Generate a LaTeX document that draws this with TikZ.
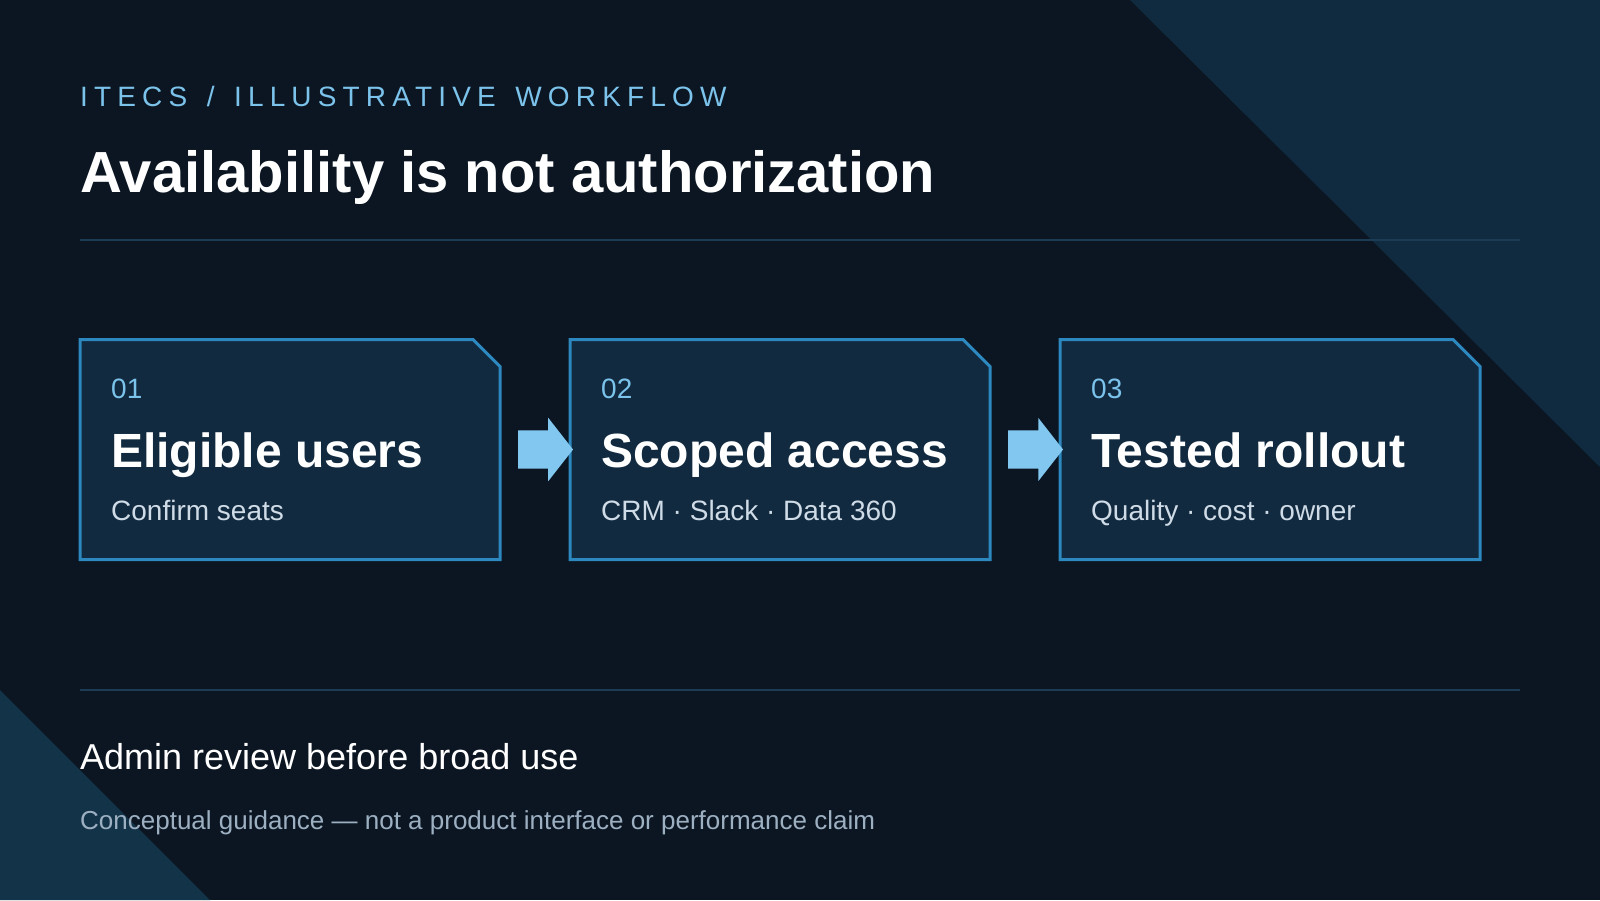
\documentclass[tikz,border=0pt]{standalone}
\usepackage{fontspec}
\setmainfont{Liberation Sans}
\newfontfamily\trackfont[LetterSpace=22,WordSpace=1.4]{Liberation Sans}
\usepackage{xcolor}
\usetikzlibrary{positioning,shapes.arrows}

\definecolor{bgnavy}{HTML}{0B1622}
\definecolor{tripanel}{HTML}{102B40}
\definecolor{tripanelb}{HTML}{133349}
\definecolor{ruleline}{HTML}{1B3C54}
\definecolor{boxfill}{HTML}{112A40}
\definecolor{boxline}{HTML}{2C88BF}
\definecolor{arrowblue}{HTML}{82C7F0}
\definecolor{numblue}{HTML}{7CC3EC}
\definecolor{subgrey}{HTML}{CFDBE6}
\definecolor{notegrey}{HTML}{9DB0C2}

\newcommand{\cutbox}[1]{%
  \filldraw [box-edge] (#1.north west) -- ([xshift=-27pt]#1.north east) -- ([yshift=-27pt]#1.north east)
    -- (#1.south east) -- (#1.south west) -- cycle;}

\begin{document}
\begin{tikzpicture}
[
x=1pt, y=-1pt,
box-a/.style={rectangle, minimum width=420pt, minimum height=220pt, inner sep=0pt, outer sep=0pt},
box-edge/.style={draw=boxline, fill=boxfill, line width=3pt},
arrow-a/.style={single arrow, fill=arrowblue, inner xsep=0pt, inner ysep=19pt, minimum height=55pt,
  single arrow head extend=12.5pt, single arrow tip angle=104, outer sep=0pt},
num-a/.style={anchor=base west, inner sep=0pt, text=numblue, font=\fontsize{28}{34}\selectfont},
head-a/.style={anchor=base west, inner sep=0pt, text=white, font=\fontsize{48}{56}\selectfont\bfseries},
sub-a/.style={anchor=base west, inner sep=0pt, text=subgrey, font=\fontsize{28}{34}\selectfont},
text-a/.style={anchor=base west, inner sep=0pt},
rule-a/.style={draw=ruleline, line width=1.5pt}
]
% background and corner panels
\useasboundingbox (0,0) rectangle (1600,900);
\fill[bgnavy] (0,0) rectangle (1600,900);
\fill[tripanel] (1130,0) -- (1600,0) -- (1600,467) -- cycle;
\fill[tripanelb] (0,690) -- (210,900) -- (0,900) -- cycle;

% heading
\node (kicker) [text-a, text=numblue, font=\trackfont\fontsize{28}{34}\selectfont] at (80,106) {ITECS / ILLUSTRATIVE WORKFLOW};
\node (title)  [text-a, text=white, font=\fontsize{58}{66}\selectfont\bfseries] at (80,192) {Availability is not authorization};
\coordinate (rule-t-l) at (80,240);
\coordinate (rule-t-r) at (1520,240);
\draw [rule-a] (rule-t-l) -- (rule-t-r);

% steps
\node (box1)  [box-a] at (290,449.5) {};
\node (box2)  [box-a, right = 70pt of box1] {};
\node (box3)  [box-a, right = 70pt of box2] {};
\cutbox{box1}
\cutbox{box2}
\cutbox{box3}
\node (arr12) [arrow-a, right = 18pt of box1] {};
\node (arr23) [arrow-a, right = 18pt of box2] {};

\node (box1-num)  [num-a]  at ([shift={(31,59)}]box1.north west)  {01};
\node (box1-head) [head-a] at ([shift={(31,128)}]box1.north west) {Eligible users};
\node (box1-sub)  [sub-a]  at ([shift={(31,181)}]box1.north west) {Confirm seats};
\node (box2-num)  [num-a]  at ([shift={(31,59)}]box2.north west)  {02};
\node (box2-head) [head-a] at ([shift={(31,128)}]box2.north west) {Scoped access};
\node (box2-sub)  [sub-a]  at ([shift={(31,181)}]box2.north west) {CRM · Slack · Data 360};
\node (box3-num)  [num-a]  at ([shift={(31,59)}]box3.north west)  {03};
\node (box3-head) [head-a] at ([shift={(31,128)}]box3.north west) {Tested rollout};
\node (box3-sub)  [sub-a]  at ([shift={(31,181)}]box3.north west) {Quality · cost · owner};

% footer
\coordinate (rule-b-l) at (80,690);
\coordinate (rule-b-r) at (1520,690);
\draw [rule-a] (rule-b-l) -- (rule-b-r);
\node (review) [text-a, text=white, font=\fontsize{36}{42}\selectfont] at (80,769) {Admin review before broad use};
\node (note)   [text-a, text=notegrey, font=\fontsize{26}{32}\selectfont] at (80,829) {Conceptual guidance --- not a product interface or performance claim};
\end{tikzpicture}
\end{document}
